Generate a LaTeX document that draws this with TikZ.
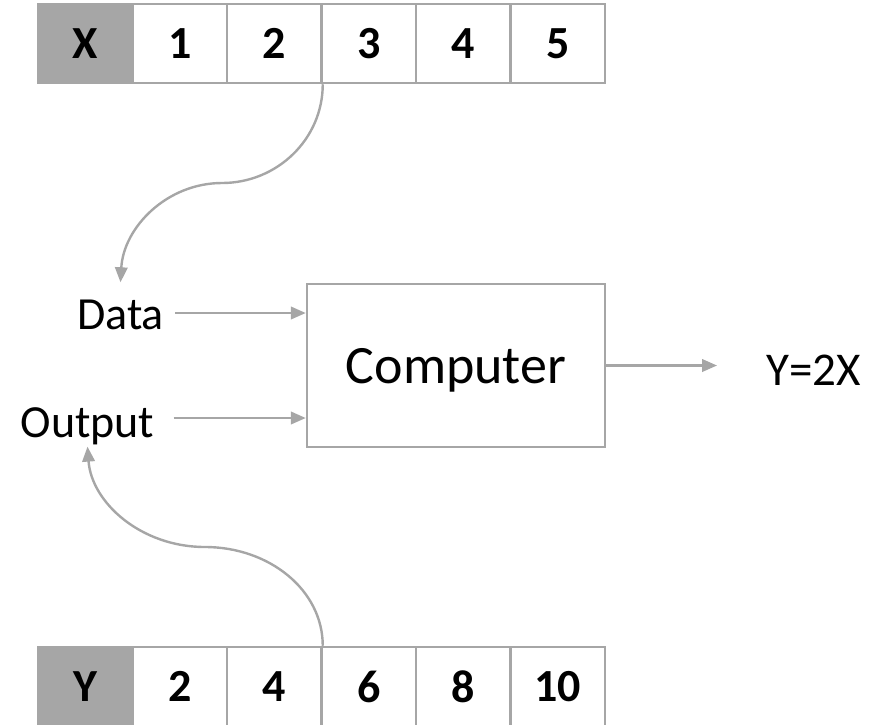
\documentclass[tikz,border=0pt]{standalone}
\usepackage{fontspec}
\setmainfont{Carlito}
\usetikzlibrary{arrows.meta}
\definecolor{linegray}{HTML}{A6A6A6}
\begin{document}
\begin{tikzpicture}[x=1pt,y=-1pt,
  cell/.style={draw=linegray, fill=white, line width=2.5pt,
    minimum width=94.5pt, minimum height=79pt, inner sep=0pt,
    font=\fontsize{46}{50}\selectfont\bfseries},
  head/.style={cell, fill=linegray},
  lbl/.style={inner sep=0pt, font=\fontsize{46}{52}\selectfont},
  conn/.style={draw=linegray, line width=2.4pt,
    -{Triangle[length=15pt,width=12.5pt]}}]
\useasboundingbox (0,0) rectangle (878,724);

% input array
\node[head] (x0) at (85.25,43.5) {X};
\node[cell] (x1) at (179.75,43.5) {1};
\node[cell] (x2) at (274.25,43.5) {2};
\node[cell] (x3) at (368.75,43.5) {3};
\node[cell] (x4) at (463.25,43.5) {4};
\node[cell] (x5) at (557.75,43.5) {5};

% output array
\node[head] (y0) at (85.25,686.5) {Y};
\node[cell] (y1) at (179.75,686.5) {2};
\node[cell] (y2) at (274.25,686.5) {4};
\node[cell] (y3) at (368.75,686.5) {6};
\node[cell] (y4) at (463.25,686.5) {8};
\node[cell] (y5) at (557.75,686.5) {10};

% the machine
\node[draw=linegray, line width=2.4pt, minimum width=298pt, minimum height=163pt,
  text depth=0pt, font=\fontsize{54}{60}\selectfont] (box) at (456,365.5) {Computer};

% labels
\node[lbl, anchor=base] (data) at (120.5,329) {Data};
\node[lbl, anchor=base] (out) at (87.5,437) {Output};
\node[lbl, anchor=base, font=\fontsize{47}{52}\selectfont] (res) at (813.5,385) {Y=2X};

% straight connectors
\draw[conn] ([xshift=11pt,yshift=16pt]data.base east) coordinate (d0) -- (d0 -| box.west);
\draw[conn] ([xshift=19pt,yshift=19pt]out.base east) coordinate (o0) -- (o0 -| box.west);
\draw[conn] (box.east) -- ([xshift=-49pt]res.west |- box.east);

% curved connectors
\draw[conn] (x2.south east) .. controls +(0,55) and +(55,0) .. (222,183)
  .. controls +(-55,0) and +(3,-55) .. ([yshift=17pt]data.north);
\draw[conn] (y2.north east) .. controls +(0,-56) and +(64,0) .. (205,547)
  .. controls +(-64,0) and +(4,56) .. ([yshift=-2pt]out.south);
\end{tikzpicture}
\end{document}
